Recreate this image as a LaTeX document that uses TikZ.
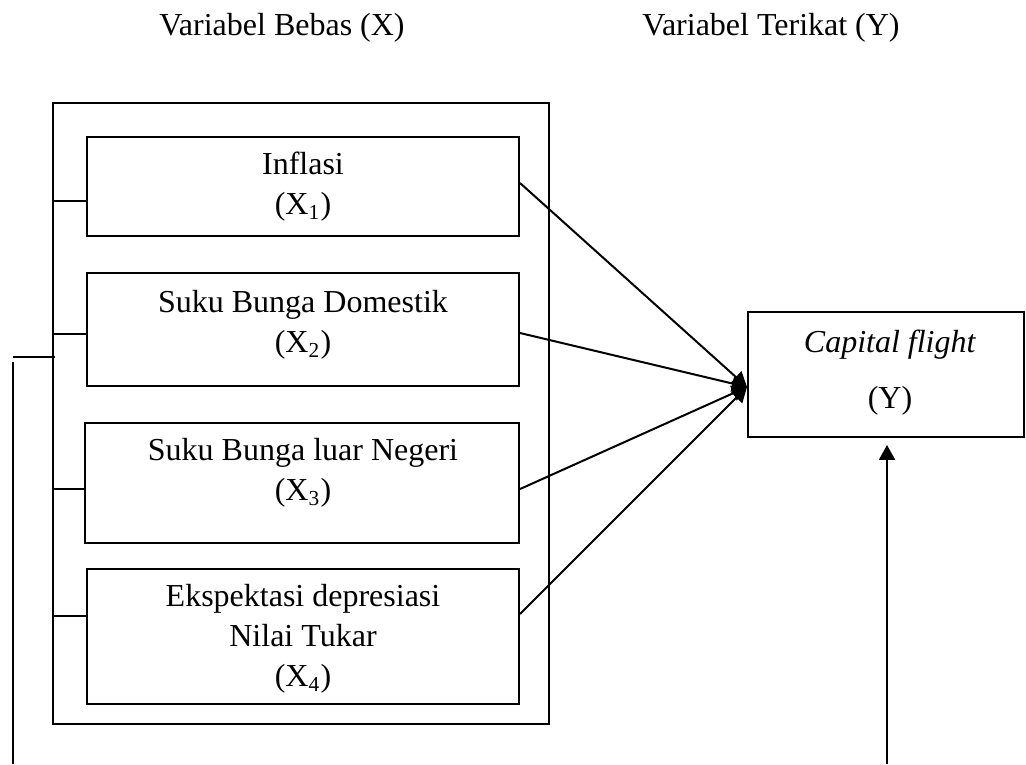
\documentclass[tikz,border=0pt]{standalone}
\usepackage{fontspec}
\setmainfont{Liberation Serif}
\usetikzlibrary{arrows.meta}

\tikzset{
  varbox/.style={draw, line width=0.75pt, inner sep=0pt},
  vartext/.style={align=center, inner sep=0pt},
  toY/.style={line width=0.75pt, -{Triangle[length=5.6pt,width=6pt]}}
}

\begin{document}
\begin{tikzpicture}[x=0.375pt, y=-0.375pt, line width=0.75pt, font=\fontsize{12}{15}\selectfont]
\useasboundingbox (0,0) rectangle (1026,764);
% headings
\node[anchor=base] (hx) at (282,35) {Variabel Bebas (X)};
\node[anchor=base] (hy) at (771,35) {Variabel Terikat (Y)};
% independent variables
\node[varbox, minimum width=186pt, minimum height=232.9pt] (outer) at (301,413.5) {};
\node[varbox, minimum width=162pt, minimum height=37.1pt] (x1) at (303,186.5) {};
\node[varbox, minimum width=162pt, minimum height=42.4pt] (x2) at (303,329.5) {};
\node[varbox, minimum width=162.8pt, minimum height=45pt] (x3) at (302,483) {};
\node[varbox, minimum width=162pt, minimum height=50.6pt] (x4) at (303,636.5) {};
\node[vartext] (t1) at (303,187) {Inflasi\\(X\textsubscript{1})};
\node[vartext] (t2) at (303,325) {Suku Bunga Domestik\\(X\textsubscript{2})};
\node[vartext] (t3) at (303,473) {Suku Bunga luar Negeri\\(X\textsubscript{3})};
\node[vartext] (t4) at (303,639) {Ekspektasi depresiasi\\Nilai Tukar\\(X\textsubscript{4})};
% dependent variable
\node[varbox, minimum width=103.5pt, minimum height=46.9pt] (cf) at (886,374.5) {};
\node[vartext] (ty) at (890,373) {\textit{Capital flight}\\[6pt](Y)};
\coordinate (meet) at (cf.west |- 0,387);
\foreach \b/\y/\z in {x1/201/183, x2/334/333, x3/489/489, x4/616/614}{
  \draw (outer.west |- 0,\y) -- (\b.west |- 0,\y);
  \draw[toY] (\b.east |- 0,\z) -- (meet);
}
% left line and arrow from below
\coordinate (lt) at (13,357);
\coordinate (lb) at (13,764);
\draw (lt) -- ([xshift=1pt]outer.west |- lt);
\draw (13,362) -- (lb);
\coordinate (yb) at (887,764);
\draw[toY, shorten >=2.6pt] (yb) -- (yb |- cf.south);
\end{tikzpicture}
\end{document}
